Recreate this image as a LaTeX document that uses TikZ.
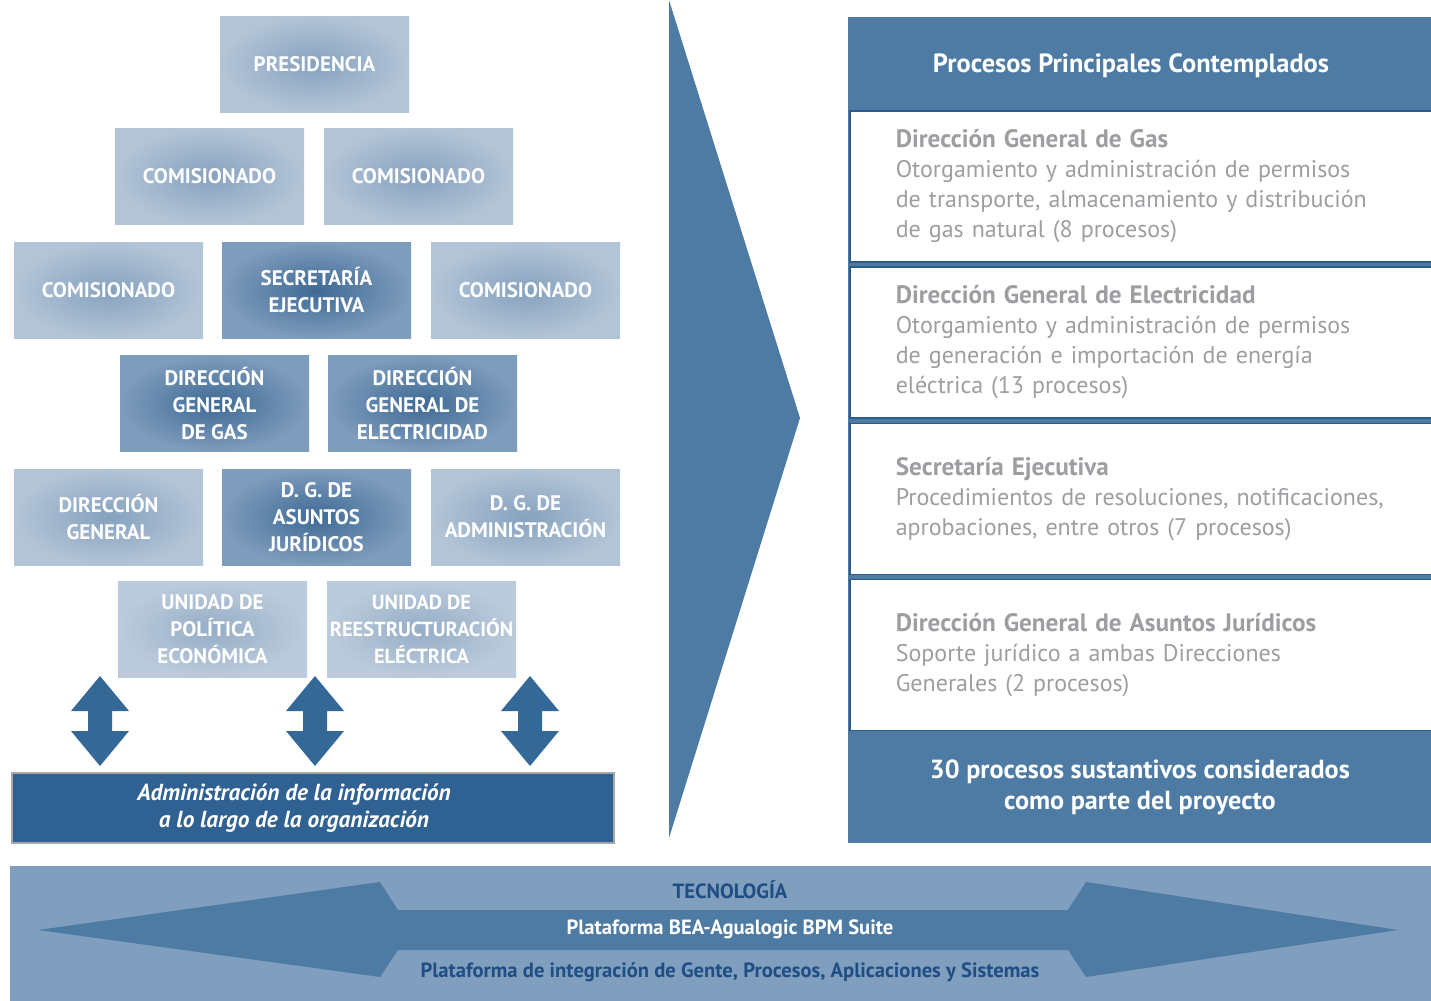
\documentclass[tikz,border=0pt]{standalone}
\usepackage{fontspec}
\setmainfont{PT Sans}
\usetikzlibrary{positioning}
\definecolor{panelblue}{HTML}{4E7BA4}
\definecolor{linkblue}{HTML}{336897}
\definecolor{adminblue}{HTML}{2F6292}
\definecolor{lineblue}{HTML}{2B5D8C}
\definecolor{bannerblue}{HTML}{809EBD}
\definecolor{tecblue}{HTML}{1F4E85}
\definecolor{txtgrey}{HTML}{9C9EA1}
\definecolor{orgmid}{HTML}{86A2BF}
\definecolor{orgedge}{HTML}{B3C4D6}
\definecolor{darkmid}{HTML}{3F6A95}
\definecolor{darkedge}{HTML}{7E9CBC}
\newcommand{\proctitle}{\bfseries\fontsize{12.6}{15}\selectfont}
\begin{document}
\begin{tikzpicture}
		[x=0.5pt,y=-0.5pt,
		org/.style={minimum width=94.5pt,minimum height=48pt,inner sep=1pt,
			align=center,text=white,font=\bfseries\fontsize{10.5}{13.5}\selectfont,
			inner color=orgmid,outer color=orgedge},
		orgdark/.style={org,inner color=darkmid,outer color=darkedge},
		orglight/.style={org,inner color=orgmid!88!white,outer color=orgedge!88!white},
		procbox/.style={draw=lineblue,line width=0.8pt,fill=white,anchor=west,
			minimum height=75.5pt,text width=270pt,inner xsep=23pt,align=left,
			text=txtgrey,font=\fontsize{12}{15}\selectfont},
		bluebar/.style={fill=panelblue,anchor=north west,minimum width=291.5pt,
			inner sep=0pt,text=white,align=center},
		bannertxt/.style={font=\bfseries\fontsize{10.3}{12}\selectfont}]
	\useasboundingbox (0,0) rectangle (1431,1001);
	% organigrama
	\node[org] (pres) at (314.5,64) {PRESIDENCIA};
	\node[org] (comA) at (209.5,176) {COMISIONADO};
	\node[org] (comB) at (418.5,176) {COMISIONADO};
	\node[org] (comC) at (108.5,290.5) {COMISIONADO};
	\node[orgdark] (secej) at (316.5,290.5) {SECRETARÍA\\EJECUTIVA};
	\node[org] (comD) at (525.5,290.5) {COMISIONADO};
	\node[orgdark] (dggas) at (214.5,403.5) {DIRECCIÓN\\GENERAL\\DE GAS};
	\node[orgdark] (dgelec) at (422.5,403.5) {DIRECCIÓN\\GENERAL DE\\ELECTRICIDAD};
	\node[org] (dgral) at (108.5,517) {DIRECCIÓN\\GENERAL};
	\node[orgdark] (dgaj) at (316.5,517) {D. G. DE\\ASUNTOS\\JURÍDICOS};
	\node[org] (dgadm) at (525.5,517) {D. G. DE\\ADMINISTRACIÓN};
	\node[orglight] (upe) at (212.5,629.5) {UNIDAD DE\\POLÍTICA\\ECONÓMICA};
	\node[orglight,inner xsep=0pt,font=\bfseries\fontsize{10.2}{13.5}\selectfont]
		(ure) at (421.5,629.5) {UNIDAD DE\\REESTRUCTURACIÓN\\ELÉCTRICA};
	\foreach \x in {100,315,530}
		\fill[linkblue] (\x,676) -- (\x+29,711) -- (\x+12,711) -- (\x+12,731)
			-- (\x+29,731) -- (\x,766) -- (\x-29,731) -- (\x-12,731)
			-- (\x-12,711) -- (\x-29,711) -- cycle;
	\node[fill=adminblue,draw=black!35,line width=0.6pt,minimum width=301pt,
		minimum height=35pt] (admin) at (313,808) {};
	\node[text=white,align=center,
		font=\bfseries\itshape\fontsize{11.6}{13.5}\selectfont]
		(admintxt) at ([xshift=-9.5pt]admin.center)
		{Administración de la información\\a lo largo de la organización};
	% flecha grande
	\fill[panelblue] (669,0) -- (800,418) -- (669,838) -- cycle;
	% procesos
	\node[bluebar,minimum height=46.5pt] (header) at (848,17) {};
	\node[text=white,font=\bfseries\fontsize{13.2}{15}\selectfont]
		(headtxt) at (1131,66) {Procesos Principales Contemplados};
	\fill[panelblue] (848,110) rectangle (1431,731);
	\node[procbox] (boxgas) at (849,186.5) {{\proctitle Dirección General de Gas}\\
		Otorgamiento y administración de permisos\\
		de transporte, almacenamiento y distribución\\
		de gas natural (8 procesos)};
	\node[procbox] (boxelec) at (849,342.5) {{\proctitle Dirección General de Electricidad}\\
		Otorgamiento y administración de permisos\\
		de generación e importación de energía\\
		eléctrica (13 procesos)};
	\node[procbox] (boxsec) at (849,499) {{\proctitle Secretaría Ejecutiva}\\
		Procedimientos de resoluciones, notificaciones,\\
		aprobaciones, entre otros (7 procesos)};
	\node[procbox] (boxaj) at (849,655) {{\proctitle Dirección General de Asuntos Jurídicos}\\
		Soporte jurídico a ambas Direcciones\\
		Generales (2 procesos)};
	\node[bluebar,minimum height=56pt,font=\bfseries\fontsize{13.1}{15.5}\selectfont]
		(total) at (848,731) {30 procesos sustantivos considerados\\como parte del proyecto};
	% tecnologia
	\fill[bannerblue] (10,866) rectangle (1431,1001);
	\fill[panelblue] (38,930) -- (380,882) -- (398,910) -- (1068,910) -- (1086,882)
		-- (1398,930) -- (1086,977) -- (1068,950) -- (398,950) -- (380,977) -- cycle;
	\node[bannertxt,text=tecblue] (tec) at (730,890) {TECNOLOGÍA};
	\node[bannertxt,text=white] (bea) at (730,929) {Plataforma BEA-Agualogic BPM Suite};
	\node[bannertxt,text=tecblue] (integ) at (730,972)
		{Plataforma de integración de Gente, Procesos, Aplicaciones y Sistemas};
\end{tikzpicture}
\end{document}
